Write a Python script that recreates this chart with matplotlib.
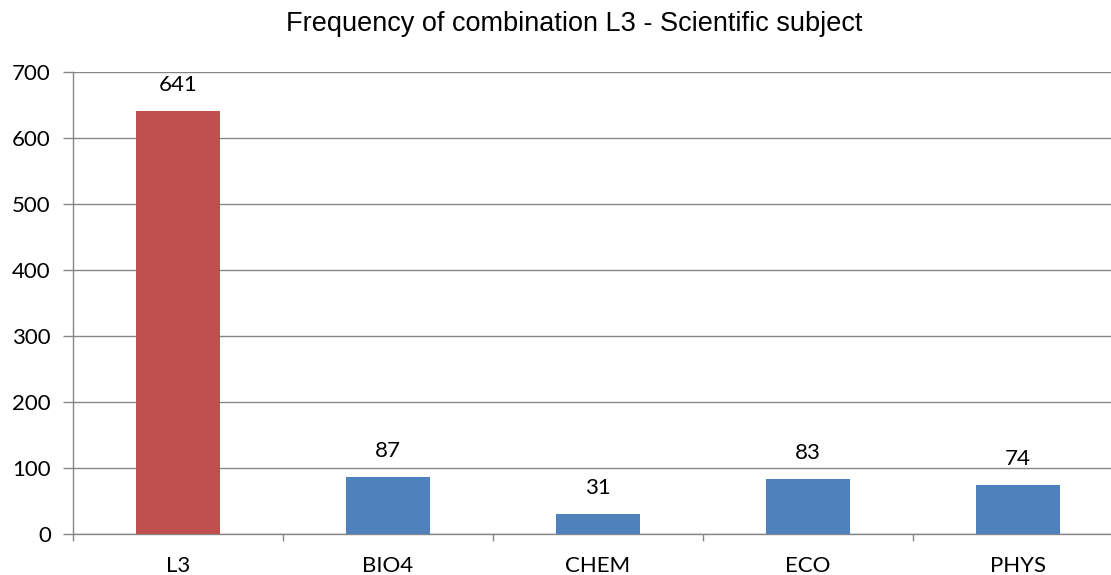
import matplotlib.pyplot as plt
from matplotlib.ticker import MultipleLocator, FixedLocator

categories = ['L3', 'BIO4', 'CHEM', 'ECO', 'PHYS']
counts = [641, 87, 31, 83, 74]
bar_colors = ['#C0504D', '#4F81BD', '#4F81BD', '#4F81BD', '#4F81BD']

grid_col = '#868686'
W, H = 1111, 575

fig = plt.figure(figsize=(W / 100, H / 100), dpi=100)
# plot area runs a bit past the right edge of the figure
ax = fig.add_axes([73 / W, (H - 534) / H, 1050 / W, 462.3 / H])

x = range(len(categories))
ax.bar(x, counts, width=0.4, color=bar_colors, zorder=3)

for xi, v in zip(x, counts):
    ax.annotate(str(v), (xi, v), xytext=(0, 18.5), textcoords='offset points',
                ha='center', va='center', fontsize=16, family='Lato')

ax.set_xlim(-0.5, len(categories) - 0.5)
ax.set_ylim(0, 700)
ax.yaxis.set_major_locator(MultipleLocator(100))
ax.yaxis.grid(True, color=grid_col, linewidth=1.0, zorder=0)

ax.set_xticks(list(x))
ax.set_xticklabels(categories)
ax.xaxis.set_minor_locator(FixedLocator([i + 0.5 for i in range(-1, len(categories))]))
ax.tick_params(axis='x', which='major', length=0, pad=16, labelsize=16)
ax.tick_params(axis='x', which='minor', length=5, color=grid_col, width=1.0)
ax.tick_params(axis='y', length=7, color=grid_col, width=1.0, labelsize=16, pad=9)
for lbl in ax.get_xticklabels() + ax.get_yticklabels():
    lbl.set_family('Lato')

for s in ['top', 'right']:
    ax.spines[s].set_visible(False)
for s in ['left', 'bottom']:
    ax.spines[s].set_color(grid_col)
    ax.spines[s].set_linewidth(1.0)

fig.text(574 / W, 1 - 24 / H, 'Frequency of combination L3 - Scientific subject',
         ha='center', va='center', fontsize=19.5, family='Liberation Sans')

plt.savefig('out.png', dpi=100)
